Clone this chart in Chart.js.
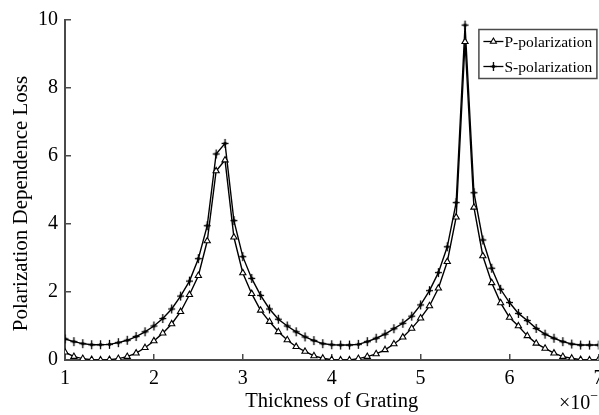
<!DOCTYPE html>
<html><head><meta charset="utf-8">
<script src="https://cdn.jsdelivr.net/npm/chart.js@4"></script>
<style>html,body{margin:0;padding:0;background:#fff}canvas{display:block}</style>
</head><body>
<canvas id="c" width="599" height="415"></canvas>
<script>
const thickness = [1.0,1.1,1.2,1.3,1.4,1.5,1.6,1.7,1.8,1.9,2.0,2.1,2.2,2.3,2.4,2.5,2.6,2.7,2.8,2.9,3.0,3.1,3.2,3.3,3.4,3.5,3.6,3.7,3.8,3.9,4.0,4.1,4.2,4.3,4.4,4.5,4.6,4.7,4.8,4.9,5.0,5.1,5.2,5.3,5.4,5.5,5.6,5.7,5.8,5.9,6.0,6.1,6.2,6.3,6.4,6.5,6.6,6.7,6.8,6.9,7.0];
const pLoss = [0.23,0.10,0.04,0.01,0.00,0.01,0.04,0.10,0.20,0.36,0.56,0.79,1.06,1.42,1.92,2.48,3.50,5.56,5.88,3.61,2.56,1.95,1.46,1.13,0.83,0.59,0.39,0.25,0.12,0.05,0.01,0.00,0.00,0.04,0.10,0.18,0.30,0.47,0.67,0.93,1.23,1.59,2.11,2.89,4.20,9.36,4.49,3.06,2.27,1.68,1.25,1.00,0.71,0.49,0.34,0.20,0.10,0.05,0.01,0.00,0.00];
const sLoss = [0.62,0.54,0.48,0.45,0.45,0.46,0.51,0.58,0.69,0.83,1.00,1.22,1.50,1.88,2.32,2.98,3.95,6.06,6.37,4.10,3.04,2.40,1.90,1.50,1.20,1.00,0.83,0.68,0.57,0.48,0.45,0.44,0.44,0.46,0.54,0.64,0.76,0.92,1.08,1.29,1.62,2.04,2.57,3.33,4.63,9.85,4.92,3.53,2.70,2.08,1.69,1.37,1.16,0.93,0.76,0.64,0.54,0.47,0.44,0.44,0.44];
const seriesNames = ['P-polarization','S-polarization'];
const xTicks = [1,2,3,4,5,6,7];
const yTicks = [0,2,4,6,8,10];
const xTitle = 'Thickness of Grating';
const yTitle = 'Polarization Dependence Loss';
const xExponent = ['\u00d710', '\u22127'];

const FONT = "'Liberation Serif','Times New Roman',serif";
const AXIS = '#4a4a4a';

// S marker: plus with small filled diamond centre
function makeSMarker(){
  const c = document.createElement('canvas');
  c.width = 11; c.height = 11;
  const g = c.getContext('2d');
  g.strokeStyle = '#000'; g.fillStyle = '#000'; g.lineWidth = 1.3;
  g.beginPath(); g.moveTo(5.5, 1); g.lineTo(5.5, 10); g.stroke();
  g.beginPath(); g.moveTo(2, 5.5); g.lineTo(9, 5.5); g.stroke();
  g.beginPath(); g.moveTo(5.5, 3.2); g.lineTo(7.8, 5.5); g.lineTo(5.5, 7.8); g.lineTo(3.2, 5.5); g.closePath(); g.fill();
  return c;
}
const sMarker = makeSMarker();
const markerStyles = ['triangle', sMarker];

function toPoints(ys){ return thickness.map((x,i)=>({x:x,y:ys[i]})); }

const extras = {
  id: 'extras',
  afterDraw(chart){
    const ctx = chart.ctx, ca = chart.chartArea;
    ctx.save();
    // legend box
    const bx = ca.right - 120, by = ca.top + 9, bw = 119, bh = 50;
    ctx.fillStyle = '#fff';
    ctx.fillRect(bx, by, bw, bh);
    ctx.strokeStyle = AXIS; ctx.lineWidth = 1.5;
    ctx.strokeRect(bx + 0.5, by + 0.5, bw - 1, bh - 1);
    seriesNames.forEach((name, i) => {
      const y = by + 12.5 + i * 25;
      ctx.strokeStyle = '#000'; ctx.lineWidth = 1.3;
      ctx.beginPath(); ctx.moveTo(bx + 5, y); ctx.lineTo(bx + 25, y); ctx.stroke();
      ctx.fillStyle = i === 0 ? '#fff' : '#000';
      ctx.strokeStyle = '#000'; ctx.lineWidth = 1.1;
      Chart.helpers.drawPoint(ctx, {pointStyle: markerStyles[i], radius: 3.5, borderWidth: 1.1, rotation: 0}, bx + 15, y);
      ctx.fillStyle = '#000';
      ctx.font = '15.5px ' + FONT;
      ctx.textBaseline = 'middle'; ctx.textAlign = 'left';
      ctx.fillText(name, bx + 26, y + 1);
    });
    // y axis title
    ctx.save();
    ctx.translate(26.5, 203.5);
    ctx.rotate(-Math.PI / 2);
    ctx.font = '21px ' + FONT;
    ctx.textAlign = 'center'; ctx.textBaseline = 'alphabetic';
    ctx.fillStyle = '#000';
    ctx.fillText(yTitle, 0, 0);
    ctx.restore();
    // exponent label
    ctx.fillStyle = '#000';
    ctx.textBaseline = 'alphabetic'; ctx.textAlign = 'left';
    ctx.font = '20px ' + FONT;
    ctx.fillText(xExponent[0], 559, 409);
    const w = ctx.measureText(xExponent[0]).width;
    ctx.font = '14px ' + FONT;
    ctx.fillText(xExponent[1], 559 + w, 400);
    ctx.restore();
  }
};

new Chart(document.getElementById('c'), {
  type: 'line',
  data: {
    datasets: [
      { label: seriesNames[0], data: toPoints(pLoss), borderColor: '#000', borderWidth: 1.4,
        pointStyle: markerStyles[0], pointRadius: 3.6, pointBorderWidth: 1.1,
        pointBackgroundColor: '#fff', pointBorderColor: '#000', tension: 0, fill: false },
      { label: seriesNames[1], data: toPoints(sLoss), borderColor: '#000', borderWidth: 1.4,
        pointStyle: markerStyles[1], pointRadius: 4, pointBorderWidth: 1.2,
        pointBackgroundColor: '#000', pointBorderColor: '#000', tension: 0, fill: false }
    ]
  },
  options: {
    responsive: false, animation: false, devicePixelRatio: 1,
    layout: { autoPadding: false, padding: { top: 20, right: 0.6, left: 0, bottom: 0 } },
    plugins: { legend: { display: false }, tooltip: { enabled: false } },
    scales: {
      x: {
        type: 'linear', min: 1, max: 7,
        afterBuildTicks: s => { s.ticks = xTicks.map(v => ({value: v})); },
        afterFit: s => { s.height = 55; s.paddingLeft = 0; s.paddingRight = 0; },
        grid: { drawOnChartArea: false, tickLength: -6, color: AXIS, lineWidth: 1.5 },
        border: { display: true, color: AXIS, width: 2 },
        ticks: { color: '#000', font: { family: FONT, size: 20 }, padding: 13, maxRotation: 0, autoSkip: false },
        title: { display: true, text: xTitle, color: '#000', font: { family: FONT, size: 20.5 }, padding: { top: 0, bottom: 1 } }
      },
      y: {
        type: 'linear', min: 0, max: 10,
        afterBuildTicks: s => { s.ticks = yTicks.map(v => ({value: v})); },
        afterFit: s => { s.width = 65; s.paddingTop = 0; s.paddingBottom = 0; },
        grid: { drawOnChartArea: false, tickLength: -6, color: AXIS, lineWidth: 1.5 },
        border: { display: true, color: AXIS, width: 2 },
        ticks: { color: '#000', font: { family: FONT, size: 20 }, padding: 13, autoSkip: false },
        title: { display: false }
      }
    }
  },
  plugins: [extras]
});
</script>
</body></html>
